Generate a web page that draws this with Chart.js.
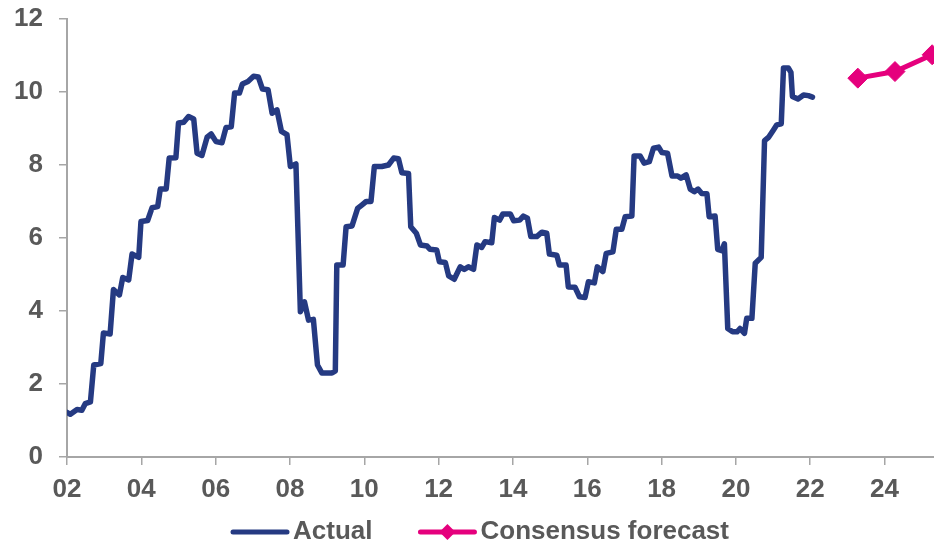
<!DOCTYPE html>
<html>
<head>
<meta charset="utf-8">
<script src="https://cdn.jsdelivr.net/npm/chart.js@4.4.1/dist/chart.umd.min.js"></script>
<style>
  html, body { margin: 0; padding: 0; background: #fff; }
  #wrap { width: 934px; height: 547px; position: relative; }
</style>
</head>
<body>
<div id="wrap"><canvas id="myChart"></canvas></div>
<script>
// actual series at each corner of the line (decimal year, value)
var actualYears = [
  2002.00, 2002.09, 2002.27, 2002.40, 2002.49, 2002.63, 2002.72, 2002.91, 2002.98, 2003.16,
  2003.25, 2003.41, 2003.50, 2003.66, 2003.75, 2003.93, 2003.99, 2004.17, 2004.29, 2004.44,
  2004.51, 2004.67, 2004.75, 2004.93, 2005.00, 2005.14, 2005.27, 2005.41, 2005.50, 2005.63,
  2005.77, 2005.88, 2006.01, 2006.17, 2006.28, 2006.42, 2006.51, 2006.64, 2006.72, 2006.87,
  2007.02, 2007.15, 2007.26, 2007.41, 2007.52, 2007.65, 2007.77, 2007.92, 2008.01, 2008.16,
  2008.28, 2008.39, 2008.50, 2008.63, 2008.74, 2008.86, 2009.13, 2009.22, 2009.26, 2009.43,
  2009.51, 2009.67, 2009.82, 2009.94, 2010.05, 2010.18, 2010.27, 2010.47, 2010.65, 2010.79,
  2010.92, 2011.01, 2011.19, 2011.25, 2011.40, 2011.51, 2011.69, 2011.77, 2011.95, 2012.02,
  2012.18, 2012.27, 2012.42, 2012.58, 2012.69, 2012.80, 2012.94, 2013.03, 2013.16, 2013.25,
  2013.43, 2013.50, 2013.64, 2013.73, 2013.93, 2014.02, 2014.18, 2014.28, 2014.39, 2014.48,
  2014.64, 2014.78, 2014.91, 2014.98, 2015.18, 2015.25, 2015.43, 2015.49, 2015.67, 2015.79,
  2015.94, 2016.03, 2016.19, 2016.27, 2016.42, 2016.51, 2016.69, 2016.78, 2016.93, 2017.02,
  2017.20, 2017.26, 2017.42, 2017.53, 2017.67, 2017.78, 2017.92, 2018.01, 2018.16, 2018.28,
  2018.43, 2018.52, 2018.66, 2018.77, 2018.88, 2018.98, 2019.08, 2019.22, 2019.28, 2019.44,
  2019.51, 2019.62, 2019.69, 2019.78, 2019.91, 2020.03, 2020.11, 2020.23, 2020.29, 2020.43,
  2020.52, 2020.68, 2020.77, 2020.88, 2021.01, 2021.10, 2021.22, 2021.28, 2021.41, 2021.48,
  2021.52, 2021.67, 2021.82, 2021.95, 2022.06
];
var actualValues = [
  1.22, 1.17, 1.30, 1.28, 1.46, 1.51, 2.52, 2.56, 3.40, 3.37,
  4.59, 4.44, 4.92, 4.85, 5.56, 5.47, 6.45, 6.48, 6.83, 6.86,
  7.34, 7.34, 8.19, 8.20, 9.15, 9.17, 9.33, 9.26, 8.32, 8.26,
  8.76, 8.85, 8.64, 8.61, 9.03, 9.05, 9.97, 9.97, 10.22, 10.29,
  10.43, 10.41, 10.08, 10.06, 9.42, 9.51, 8.92, 8.83, 7.96, 8.03,
  3.98, 4.25, 3.75, 3.77, 2.52, 2.30, 2.30, 2.36, 5.26, 5.26,
  6.31, 6.33, 6.81, 6.91, 7.00, 7.00, 7.96, 7.96, 8.00, 8.19,
  8.17, 7.79, 7.77, 6.31, 6.13, 5.81, 5.78, 5.69, 5.67, 5.35,
  5.33, 4.96, 4.87, 5.21, 5.14, 5.21, 5.14, 5.81, 5.74, 5.90,
  5.87, 6.56, 6.49, 6.66, 6.66, 6.47, 6.49, 6.60, 6.54, 6.04,
  6.04, 6.16, 6.13, 5.56, 5.53, 5.26, 5.26, 4.66, 4.65, 4.39,
  4.37, 4.80, 4.77, 5.21, 5.08, 5.58, 5.62, 6.24, 6.24, 6.58,
  6.60, 8.25, 8.25, 8.05, 8.09, 8.46, 8.49, 8.34, 8.32, 7.70,
  7.70, 7.64, 7.73, 7.34, 7.27, 7.34, 7.22, 7.21, 6.58, 6.60,
  5.69, 5.65, 5.84, 3.52, 3.43, 3.43, 3.52, 3.39, 3.80, 3.80,
  5.31, 5.47, 8.67, 8.76, 8.96, 9.10, 9.13, 10.66, 10.66, 10.54,
  9.88, 9.81, 9.92, 9.90, 9.86
];
var forecastYears = [2023.28, 2024.28, 2025.28];
var forecastValues = [10.38, 10.56, 11.02];

var xTickYears = [2002, 2004, 2006, 2008, 2010, 2012, 2014, 2016, 2018, 2020, 2022, 2024];
var xTickLabels = ['02', '04', '06', '08', '10', '12', '14', '16', '18', '20', '22', '24'];
var yTicks = [0, 2, 4, 6, 8, 10, 12];

var NAVY = '#253A82';
var PINK = '#E5007D';
var GREY_TXT = '#595959';
var GREY_AX = '#A6A6A6';
var FONT = "'Liberation Sans', Arial, sans-serif";
var legendSize = 26;

function pairs(xs, ys) {
  return xs.map(function (x, i) { return {x: x, y: ys[i]}; });
}

// legend samples: a short line right before each label, plus a diamond for the forecast
var legendMarks = {
  id: 'legendMarks',
  afterDraw: function (chart) {
    var lg = chart.legend;
    if (!lg || !lg.legendHitBoxes) return;
    var c = chart.ctx;
    var bw = lg.options.labels.boxWidth;
    lg.legendItems.forEach(function (item, i) {
      var hb = lg.legendHitBoxes[i];
      var ds = chart.data.datasets[item.datasetIndex];
      var tx = hb.left + bw + legendSize / 2;
      var y = hb.top + hb.height / 2;
      c.save();
      c.strokeStyle = ds.borderColor;
      c.lineWidth = 5;
      c.lineCap = 'round';
      c.beginPath();
      c.moveTo(tx - 60, y);
      c.lineTo(tx - 6, y);
      c.stroke();
      if (ds.pointRadius) {
        var cx = tx - 33, r = 8;
        c.fillStyle = ds.borderColor;
        c.beginPath();
        c.moveTo(cx, y - r); c.lineTo(cx + r, y); c.lineTo(cx, y + r); c.lineTo(cx - r, y);
        c.closePath();
        c.fill();
      }
      c.restore();
    });
  }
};

var ctx = document.getElementById('myChart').getContext('2d');
new Chart(ctx, {
  type: 'line',
  data: {
    datasets: [{
      label: 'Actual',
      data: pairs(actualYears, actualValues),
      borderColor: NAVY,
      backgroundColor: NAVY,
      borderWidth: 5.5,
      borderJoinStyle: 'round',
      borderCapStyle: 'round',
      pointRadius: 0,
      pointHoverRadius: 0,
      tension: 0
    }, {
      label: 'Consensus forecast',
      data: pairs(forecastYears, forecastValues),
      borderColor: PINK,
      backgroundColor: PINK,
      borderWidth: 5,
      pointStyle: 'rectRot',
      pointRadius: 10,
      pointBorderWidth: 1,
      pointBackgroundColor: PINK,
      pointBorderColor: PINK,
      tension: 0,
      clip: false
    }]
  },
  options: {
    responsive: true,
    maintainAspectRatio: false,
    animation: false,
    layout: { autoPadding: false, padding: { top: 19, right: 0, bottom: -8, left: 0 } },
    plugins: {
      tooltip: { enabled: false },
      legend: {
        display: true,
        position: 'bottom',
        labels: {
          boxWidth: 75,
          boxHeight: 5,
          padding: 20,
          color: GREY_TXT,
          font: { family: FONT, size: legendSize, weight: 'bold' },
          generateLabels: function (chart) {
            return Chart.defaults.plugins.legend.labels.generateLabels(chart).map(function (it) {
              it.fillStyle = 'rgba(0,0,0,0)';
              it.strokeStyle = 'rgba(0,0,0,0)';
              it.lineWidth = 0;
              return it;
            });
          }
        }
      }
    },
    scales: {
      x: {
        type: 'linear',
        min: 2002,
        max: 2025.33,
        afterBuildTicks: function (scale) {
          scale.ticks = xTickYears.map(function (v) { return {value: v}; });
        },
        afterFit: function (scale) {
          scale.paddingLeft = 0;
          scale.paddingRight = 0;
          scale.height = 42;
        },
        grid: { drawOnChartArea: false, drawTicks: true, tickLength: 8, color: GREY_AX, lineWidth: 1.5 },
        border: { display: true, color: GREY_AX, width: 2 },
        ticks: {
          autoSkip: false,
          maxRotation: 0,
          padding: 9,
          color: GREY_TXT,
          font: { family: FONT, size: 26, weight: 'bold' },
          callback: function (v) {
            var i = xTickYears.indexOf(v);
            return i >= 0 ? xTickLabels[i] : '';
          }
        }
      },
      y: {
        min: 0,
        max: 12,
        afterBuildTicks: function (scale) {
          scale.ticks = yTicks.map(function (v) { return {value: v}; });
        },
        afterFit: function (scale) {
          scale.width = 67;
          scale.paddingTop = 0;
          scale.paddingBottom = 0;
        },
        grid: { drawOnChartArea: false, drawTicks: true, tickLength: 8, color: GREY_AX, lineWidth: 1.5 },
        border: { display: true, color: GREY_AX, width: 2 },
        ticks: {
          padding: 16,
          color: GREY_TXT,
          font: { family: FONT, size: 26, weight: 'bold' }
        }
      }
    }
  },
  plugins: [legendMarks]
});
</script>
</body>
</html>
